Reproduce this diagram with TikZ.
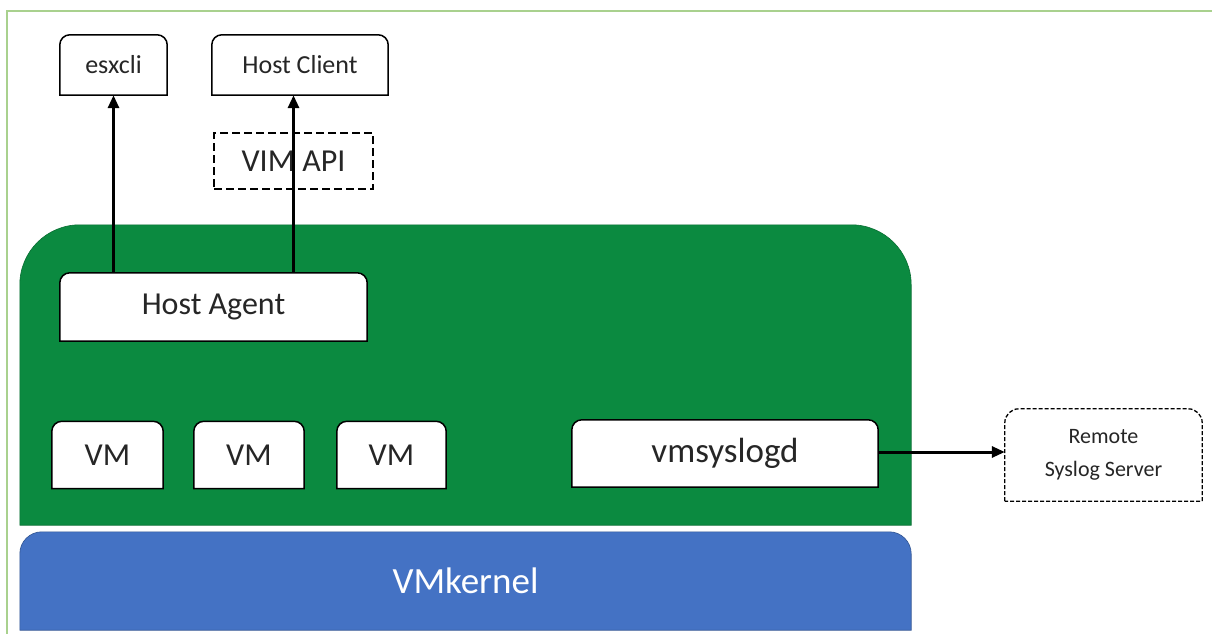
\documentclass[tikz,border=0pt]{standalone}
\usepackage{fontspec}
\setmainfont{Carlito}
\usetikzlibrary{arrows.meta, positioning, backgrounds}
\definecolor{hostgreen}{RGB}{11,138,64}
\definecolor{kernblue}{RGB}{68,114,196}
\definecolor{framegreen}{RGB}{169,209,142}
\pgfdeclarelayer{back}
\pgfdeclarelayer{boxes}
\pgfsetlayers{back,boxes,main}
% outline with rounded top corners only
\newcommand{\toprounded}[3]{%
  \draw[#3] (#1.south west) [rounded corners=#2] -- (#1.north west) -- (#1.north east) [sharp corners] -- (#1.south east) -- cycle;}

\begin{document}
\begin{tikzpicture}[x=1pt, y=-1pt,
    txt/.style={inner sep=0pt, align=center, text=black!85},
    small/.style={txt, font=\fontsize{26}{30}\selectfont},
    mid/.style={txt, font=\fontsize{32}{36}\selectfont},
    outline/.style={draw=black, line width=1.5pt, fill=white},
    dashbox/.style={draw=black, line width=1.3pt, dash pattern=on 8pt off 4pt},
    arr/.style={-{Triangle[length=13pt, width=11pt]}, line width=3pt}
  ]
    \useasboundingbox (0,0) rectangle (1212,634);
    \draw[framegreen, line width=2pt] (7,640) -- (7,11) -- (1220,11);

    % layers
    \node[txt, minimum width=891pt, minimum height=300pt] (host) at (465.5,375) {};
    \node[txt, minimum width=891pt, minimum height=98pt, text=white, font=\fontsize{37}{42}\selectfont] (kernel) at (465.5,581) {VMkernel};

    % clients
    \node[small, minimum width=107pt, minimum height=60pt] (esx) at (113.5,65) {esxcli};
    \node[small, minimum width=176pt, minimum height=60pt] (client) at (300,65) {Host Client};
    \node[mid, dashbox, minimum width=159pt, minimum height=56pt] (api) at (293.5,161) {VIM API};

    % inside the host
    \node[mid, minimum width=307pt, minimum height=68pt] (agent) at (213.5,307) {Host Agent};
    \node[mid, minimum width=111pt, minimum height=67pt] (vm1) at (107.5,455) {VM};
    \node[mid, minimum width=110pt, minimum height=67pt] (vm2) at (249,455) {VM};
    \node[mid, minimum width=109pt, minimum height=67pt] (vm3) at (391.5,455) {VM};
    \node[mid, minimum width=306pt, minimum height=67pt, font=\fontsize{35}{40}\selectfont] (syslogd) at (725,453.5) {vmsyslogd};

    \node[txt, minimum width=197pt, minimum height=92pt, font=\fontsize{22}{33}\selectfont] (remote) at (1103.5,455) {Remote\\Syslog Server};

    \begin{pgfonlayer}{back}
        \toprounded{host}{60pt}{fill=hostgreen, draw=hostgreen!80!black, line width=0.6pt}
        \toprounded{kernel}{22pt}{fill=kernblue, draw=kernblue!75!black, line width=0.6pt}
    \end{pgfonlayer}
    \begin{pgfonlayer}{boxes}
        \foreach \b in {esx, client, agent, vm1, vm2, vm3, syslogd}
            {\toprounded{\b}{10pt}{outline}}
        \toprounded{remote}{14pt}{fill=white, draw=black, line width=1.3pt, dash pattern=on 4pt off 2pt}
    \end{pgfonlayer}

    \draw[arr] (agent.north -| esx.center) -- (esx.south);
    \draw[arr] (agent.north -| api.center) -- (api.center |- client.south);
    \draw[arr] ([yshift=1.5pt]syslogd.east) -- ([yshift=1.5pt]syslogd.east -| remote.west);
\end{tikzpicture}
\end{document}
